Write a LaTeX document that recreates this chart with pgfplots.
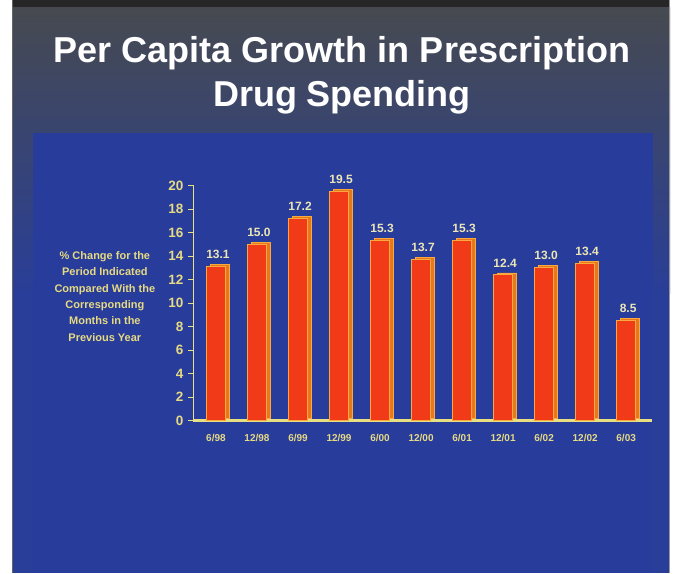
\documentclass[border=0pt]{standalone}
\usepackage{pgfplots}
\pgfplotsset{compat=1.18}
\usepackage{fontspec}
\setmainfont{Liberation Sans}
\definecolor{bgblue}{RGB}{41,62,152}
\definecolor{bggray}{RGB}{70,74,80}
\definecolor{panelblue}{RGB}{40,60,155}
\definecolor{barred}{RGB}{240,58,24}
\definecolor{barside}{RGB}{232,120,30}
\definecolor{baredge}{RGB}{250,170,60}
\definecolor{axyellow}{RGB}{232,222,130}
\definecolor{lblyellow}{RGB}{230,218,130}
\definecolor{vallbl}{RGB}{236,230,180}
\begin{document}
\begin{tikzpicture}
% background
\fill[white] (0pt,0pt) rectangle (684pt,572pt);
\fill[bgblue] (12pt,0pt) rectangle (670pt,280pt);
\shade[top color=bggray, bottom color=bgblue] (12pt,279pt) rectangle (670pt,565pt);
\fill[black!85] (12pt,565pt) rectangle (670pt,572pt);
\fill[panelblue] (33pt,0pt) rectangle (653pt,439pt);
\draw[black!60, line width=1pt] (12.5pt,0pt) -- (12.5pt,572pt);
\draw[black!40, line width=1pt] (669.5pt,0pt) -- (669.5pt,572pt);
% title
\node[white, align=center, font=\fontsize{36}{44}\selectfont\bfseries] at (342pt,497pt)
  {Per Capita Growth in Prescription\\Drug Spending};
\begin{axis}[
  at={(193pt,152pt)}, anchor=south west,
  scale only axis, width=459pt, height=235pt,
  xmin=-0.56, xmax=10.63, ymin=0, ymax=20,
  axis x line=bottom, axis y line=left,
  axis line style={-},
  y axis line style={draw=axyellow, line width=0.8pt},
  x axis line style={draw=axyellow, line width=2.6pt},
  ytick={0,2,...,20},
  xtick={0,...,10},
  xticklabels={6/98,12/98,6/99,12/99,6/00,12/00,6/01,12/01,6/02,12/02,6/03},
  x tick style={draw=none},
  y tick style={draw=axyellow, line width=0.8pt},
  tick align=outside, major tick length=5pt,
  yticklabel style={font=\fontsize{13.5}{13.5}\selectfont\bfseries, text=lblyellow, xshift=-1pt},
  xticklabel style={font=\fontsize{10}{10}\selectfont\bfseries, text=lblyellow, yshift=-5pt},
  /pgf/number format/assume math mode=true,
  ylabel={\% Change for the\\Period Indicated\\Compared With the\\Corresponding\\Months in the\\Previous Year},
  ylabel style={rotate=-90, align=center, anchor=center,
    at={(axis description cs:-0.192,0.528)},
    font=\fontsize{11}{16.4}\selectfont\bfseries, text=lblyellow},
  clip=true,
]
\addplot[ybar, bar width=19pt, bar shift=4pt, yshift=2pt, fill=barside, draw=baredge, line width=0.6pt]
  coordinates {(0,13.1) (1,15.0) (2,17.2) (3,19.5) (4,15.3) (5,13.7) (6,15.3) (7,12.4) (8,13.0) (9,13.4) (10,8.5)};
\addplot[ybar, bar width=19pt, bar shift=0pt, fill=barred, draw=baredge, line width=0.8pt,
  nodes near coords={\pgfmathprintnumber[fixed,fixed zerofill,precision=1]{\pgfplotspointmeta}},
  every node near coord/.append style={font=\fontsize{12}{12}\selectfont\bfseries, text=vallbl, yshift=4pt, xshift=2pt}]
  coordinates {(0,13.1) (1,15.0) (2,17.2) (3,19.5) (4,15.3) (5,13.7) (6,15.3) (7,12.4) (8,13.0) (9,13.4) (10,8.5)};
\end{axis}
\end{tikzpicture}
\end{document}
